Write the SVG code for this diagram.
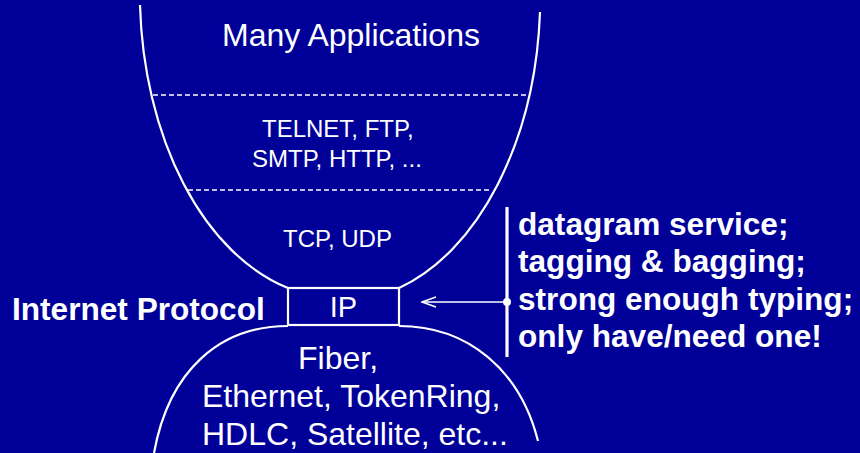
<svg xmlns="http://www.w3.org/2000/svg" width="860" height="453" viewBox="0 0 860 453">
<defs>
<style>
.bg{fill:#000099}
.ln{fill:none;stroke:#ffffff;stroke-width:2.2}
.dash{fill:none;stroke:#ffffff;stroke-width:1.6;stroke-dasharray:5 3}
.t{font-family:"Liberation Sans",Arial,sans-serif;fill:#ffffff}
.r32{font-size:32px}
.r24{font-size:24px}
.b{font-weight:bold;font-size:31.6px}
</style>
<marker id="open" viewBox="0 0 16 12" refX="15" refY="6" markerWidth="16" markerHeight="12" markerUnits="userSpaceOnUse" orient="auto">
<path d="M1,1 L15,6 L1,11" fill="none" stroke="#ffffff" stroke-width="1.4"/>
</marker>
</defs>
<rect class="bg" x="0" y="0" width="860" height="453"/>
<g id="hourglass">
<path class="ln" d="M140,5 A198,306 0 0,0 288,288"/>
<path class="ln" d="M399,288 A198,306 0 0,0 540,12"/>
<path class="ln" d="M288,326 C220,326 169,370 154,453"/>
<path class="ln" d="M399,326 C468,326 520,370 538,441"/>
<line class="dash" x1="153" y1="95" x2="527" y2="95"/>
<line class="dash" x1="188" y1="190" x2="491" y2="190"/>
</g>
<g id="applications">
<text class="t r32" x="222" y="46">Many Applications</text>
</g>
<g id="app-protocols">
<text class="t r24" x="262" y="137">TELNET, FTP,</text>
<text class="t r24" x="252" y="167">SMTP, HTTP, ...</text>
</g>
<g id="transport">
<text class="t r24" x="283" y="247">TCP, UDP</text>
</g>
<g id="ip">
<rect x="288" y="288" width="111" height="37" fill="#000099" stroke="#ffffff" stroke-width="2.2"/>
<text class="t" x="343.5" y="317" font-size="29" text-anchor="middle">IP</text>
</g>
<g id="ip-label">
<text class="t b" x="12" y="320">Internet Protocol</text>
</g>
<g id="link">
<text class="t r32" x="298" y="369">Fiber,</text>
<text class="t r32" x="202" y="407">Ethernet, TokenRing,</text>
<text class="t r32" x="202" y="445">HDLC, Satellite, etc...</text>
</g>
<g id="notes">
<text class="t b" x="518" y="235">datagram service;</text>
<text class="t b" x="518" y="272">tagging &amp; bagging;</text>
<text class="t b" x="518" y="310">strong enough typing;</text>
<text class="t b" x="518" y="347">only have/need one!</text>
</g>
<g id="connectors">
<line x1="507" y1="207" x2="507" y2="357" stroke="#ffffff" stroke-width="3.2"/>
<line x1="507" y1="302" x2="422" y2="302" stroke="#ffffff" stroke-width="1.4" marker-end="url(#open)"/>
<circle cx="507" cy="302" r="4" fill="#ffffff"/>
</g>
</svg>
